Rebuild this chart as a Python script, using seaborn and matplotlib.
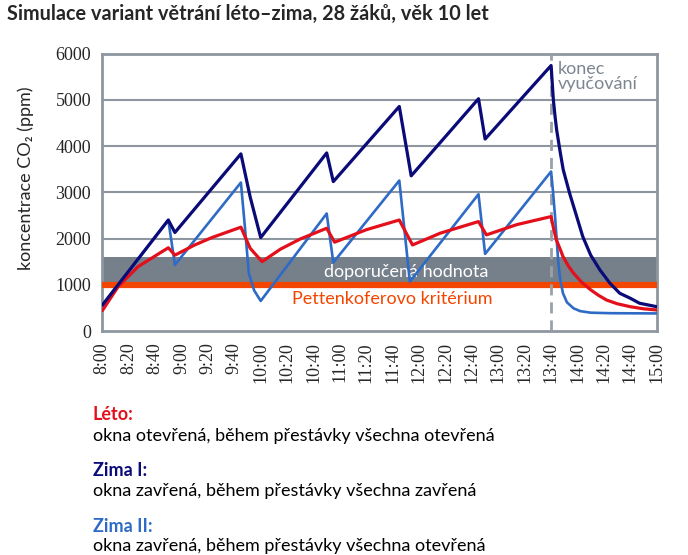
import pandas as pd
import matplotlib
matplotlib.use("Agg")
import matplotlib.pyplot as plt
import seaborn as sns

sns.set_style("white")
plt.rcParams["font.family"] = ["Lato", "DejaVu Sans"]

# minutes after 8:00 and CO2 (ppm)
leto_t = [0, 12, 27, 50, 55, 70, 83, 105, 112, 121, 135, 150, 170, 176, 200,
          225, 235, 256, 285, 291, 314, 340, 342, 344, 347, 349, 353, 357, 363,
          370, 376, 382, 390, 400, 410, 420]
leto_v = [440, 960, 1390, 1800, 1640, 1860, 2020, 2245, 1790, 1500, 1770, 1990,
          2222, 1920, 2190, 2400, 1860, 2115, 2366, 2078, 2300, 2474, 2200, 1970,
          1760, 1610, 1410, 1250, 1060, 890, 770, 670, 590, 525, 480, 455]

zima1_t = [0, 50, 55, 105, 112, 120, 170, 175, 225, 234, 285, 290, 340, 341.7,
           343, 344.2, 347, 349.2, 354, 359.4, 364, 370, 377, 384.6, 392, 400,
           407, 420]
zima1_v = [560, 2400, 2130, 3830, 2900, 2020, 3850, 3230, 4855, 3355, 5022, 4150,
           5740, 5000, 4640, 4350, 3850, 3485, 2980, 2474, 2041, 1640, 1320, 1032,
           816, 708, 600, 526]

zima2_t = [0, 50, 55, 105, 108, 111, 115, 120, 170, 175, 225, 233, 285, 290, 340,
           341.5, 343, 345.5, 347, 349, 352, 357, 362, 370, 385, 420]
zima2_v = [550, 2400, 1430, 3210, 2260, 1250, 880, 650, 2540, 1480, 3253, 1067,
           2958, 1667, 3448, 3000, 2474, 1465, 1100, 816, 620, 491, 430, 396, 385,
           380]

series_names = ["Léto", "Zima I", "Zima II"]
series_colors = ["#e3101b", "#0a0a78", "#2e6bc6"]

tick_minutes = list(range(0, 421, 20))
tick_labels = [f"{8 + m // 60}:{m % 60:02d}" for m in tick_minutes]

doporucena = (1000, 1590)
pettenkofer = 1000
konec = 340

df = pd.concat([
    pd.DataFrame({"t": leto_t, "co2": leto_v, "varianta": "Léto"}),
    pd.DataFrame({"t": zima1_t, "co2": zima1_v, "varianta": "Zima I"}),
    pd.DataFrame({"t": zima2_t, "co2": zima2_v, "varianta": "Zima II"}),
])

fig = plt.figure(figsize=(6.88, 5.55), dpi=100)
ax = fig.add_axes([0.1487, 0.4036, 0.8058, 0.5])

grid_col = "#8e979f"
for y in range(1000, 6001, 1000):
    ax.axhline(y, color=grid_col, lw=1.5, zorder=1)

ax.axhspan(doporucena[0], doporucena[1], color="#76808a", lw=0, zorder=2)
ax.axhline(pettenkofer, color="#f24600", lw=4.5, zorder=3)
ax.axvline(konec, color="#9aa1a9", lw=2, ls=(0, (4, 2.5)), zorder=3)

sns.lineplot(
    data=df, x="t", y="co2", hue="varianta",
    hue_order=["Zima II", "Léto", "Zima I"],
    palette=dict(zip(series_names, series_colors)),
    legend=False, ax=ax, zorder=5
)
for ln, w in zip(ax.lines[-3:], [1.9, 2.3, 2.3]):
    ln.set_linewidth(w)
    ln.set_solid_joinstyle("round")

ax.set_xlim(0, 420)
ax.set_ylim(0, 6000)
ax.set_xticks(tick_minutes)
ax.set_xticklabels(tick_labels, rotation=90, family="Liberation Serif", fontsize=13)
ax.set_yticks(range(0, 6001, 1000))
ax.set_yticklabels([str(v) for v in range(0, 6001, 1000)],
                   family="Liberation Serif", fontsize=13)
ax.tick_params(axis="x", length=0, pad=8)
ax.tick_params(axis="y", length=3, width=1.5, color=grid_col, pad=5)
ax.set_xlabel("")
ax.set_ylabel("")
for s in ax.spines.values():
    s.set_color(grid_col)
    s.set_linewidth(2)

ax.text(230, 1283, "doporučená hodnota", color="white", fontsize=13,
        ha="center", va="center", zorder=4)
ax.text(220, 686, "Pettenkoferovo kritérium", color="#f24600", fontsize=13,
        ha="center", va="center", zorder=4)
ax.text(345, 5500, "konec\nvyučování", color="#7d8690", fontsize=13,
        ha="left", va="center", linespacing=0.95, zorder=4)

fig.text(0.038, 1 - 178 / 555, "koncentrace CO₂ (ppm)", rotation=90,
         fontsize=13, ha="center", va="center")

fig.text(0.01, 1 - 14 / 555, "Simulace variant větrání léto–zima, 28 žáků, věk 10 let",
         fontsize=14.3, fontweight="bold", ha="left", va="center")

legend_rows = [
    ("Léto:", "okna otevřená, během přestávky všechna otevřená", 415, 436),
    ("Zima I:", "okna zavřená, během přestávky všechna zavřená", 471, 491),
    ("Zima II:", "okna zavřená, během přestávky všechna otevřená", 526, 546),
]
for (head, desc, yh, yd), col in zip(legend_rows, series_colors):
    fig.text(93 / 688, 1 - yh / 555, head, color=col, fontsize=13,
             fontweight="bold", ha="left", va="center")
    fig.text(93 / 688, 1 - yd / 555, desc, color="black", fontsize=13,
             ha="left", va="center")

fig.savefig("out.png", dpi=100)
